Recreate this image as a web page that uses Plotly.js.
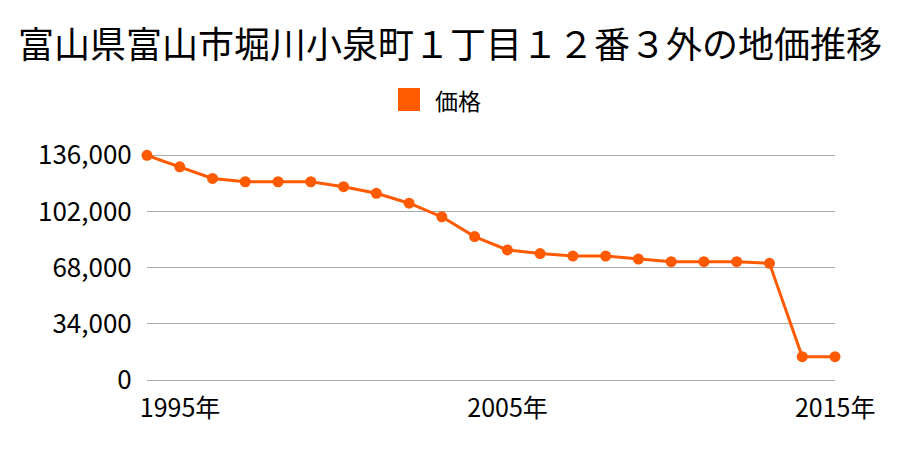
<!DOCTYPE html>
<html><head><meta charset="utf-8">
<script src="https://cdn.plot.ly/plotly-3.0.1.min.js"></script>
<style>body{margin:0;background:#fff}#c{width:900px;height:450px}</style>
</head><body><div id="c"></div>
<script>
const years = [1995,1996,1997,1998,1999,2000,2001,2002,2003,2004,2005,2006,2007,2008,2009,2010,2011,2012,2013,2014,2015,2016];
const prices = [136000,129000,122000,120000,120000,120000,117000,113000,107000,98800,86800,78700,76500,75000,75000,73200,71600,71600,71600,70600,14100,14100];
const seriesName = "価格";
const titleText = "富山県富山市堀川小泉町１丁目１２番３外の地価推移";
const xTickVals = [1995,2005,2015];
const xTickText = ["1995年","2005年","2015年"];
const yTickVals = [0,34000,68000,102000,136000];

const font = "'Noto Sans CJK JP', 'Noto Sans', sans-serif";
const color = '#ff5a00';
Plotly.newPlot('c', [{
  x: years, y: prices, name: seriesName, type: 'scatter', mode: 'lines+markers',
  line: {color: color, width: 3},
  marker: {color: color, size: 11},
  cliponaxis: false, showlegend: false
}], {
  width: 900, height: 450,
  margin: {l: 147, r: 65, t: 152, b: 70},
  paper_bgcolor: '#fff', plot_bgcolor: '#fff',
  font: {family: font, color: '#000'},
  title: {text: titleText, font: {size: 36, family: font, color: '#000'}, x: 0.5, xanchor: 'center', y: 0.9, yanchor: 'middle'},
  showlegend: false,
  shapes: [{type: 'rect', xref: 'paper', yref: 'paper', x0: 0.3648, x1: 0.3968, y0: 1.1798, y1: 1.2807,
            fillcolor: color, line: {width: 0}}],
  annotations: [{text: seriesName, xref: 'paper', yref: 'paper', x: 0.4157, y: 1.228, xanchor: 'left', yanchor: 'middle',
                 showarrow: false, font: {size: 23, family: font, color: '#000'}}],
  xaxis: {range: [1995, 2016], tickvals: xTickVals, ticktext: xTickText, showgrid: false, zeroline: false,
          ticks: 'outside', ticklen: 6, tickcolor: 'rgba(0,0,0,0)', tickfont: {size: 25}, ticklabelshift: 33, showline: false},
  yaxis: {range: [0, 138000], tickvals: yTickVals, tickformat: ',d', gridcolor: '#aaaaaa', gridwidth: 1,
          zeroline: true, zerolinecolor: '#aaaaaa', zerolinewidth: 1,
          ticks: 'outside', ticklen: 9, tickcolor: 'rgba(0,0,0,0)', tickfont: {size: 26}, showline: false}
}, {displayModeBar: false, staticPlot: true});
</script></body></html>
